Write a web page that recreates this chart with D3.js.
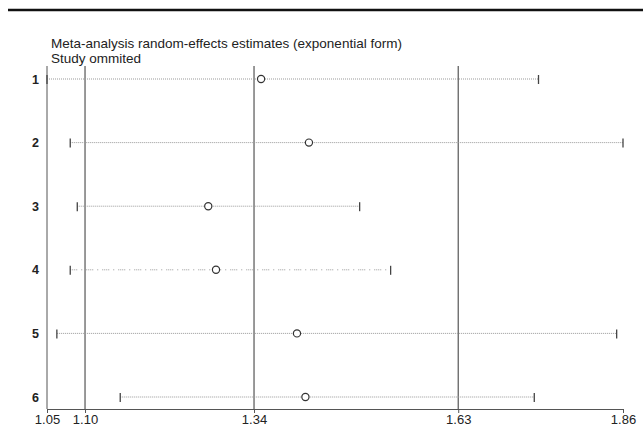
<!DOCTYPE html>
<html>
<head>
<meta charset="utf-8">
<script src="https://cdnjs.cloudflare.com/ajax/libs/d3/7.8.5/d3.min.js"></script>
<style>
  body { margin: 0; background: #fff; }
  text { font-family: "Liberation Sans", Arial, sans-serif; }
</style>
</head>
<body>
<div class="chart"></div>
<script>
var svgWidth = 643;
var svgHeight = 431;

// study omitted (row labels)
var studies = ["1", "2", "3", "4", "5", "6"];
// estimates with that study left out, and confidence limits
var estimates = [1.350, 1.418, 1.275, 1.286, 1.401, 1.413];
var lowerCI = [1.046, 1.079, 1.089, 1.079, 1.060, 1.150];
var upperCI = [1.744, 1.864, 1.490, 1.534, 1.855, 1.738];

// axis ticks: min, overall lower CI, overall estimate, upper CI, max
var tickValues = [1.046, 1.10, 1.34, 1.63, 1.864];
var tickLabels = ["1.05", "1.10", "1.34", "1.63", "1.86"];
var refLines = [1.10, 1.34, 1.63];

var svg = d3.select(".chart").append("svg")
  .attr("width", svgWidth)
  .attr("height", svgHeight);

var x = d3.scaleLinear()
  .domain([tickValues[0], tickValues[tickValues.length - 1]])
  .range([47, 623]);

var y = d3.scalePoint()
  .domain(studies)
  .range([79, 397]);

var plotTop = 66;
var plotBottom = 409;

// thick rule at the top
svg.append("line")
  .attr("x1", 8).attr("x2", svgWidth)
  .attr("y1", 10).attr("y2", 10)
  .attr("stroke", "#111")
  .attr("stroke-width", 2.5);

svg.append("text")
  .attr("x", 51).attr("y", 48)
  .attr("font-size", 13.5)
  .attr("fill", "#222")
  .text("Meta-analysis random-effects estimates (exponential form)");

svg.append("text")
  .attr("x", 51).attr("y", 63)
  .attr("font-size", 13.5)
  .attr("fill", "#222")
  .text("Study ommited");

// x axis
var bottomAxis = d3.axisBottom(x)
  .tickValues(tickValues)
  .tickFormat((d, i) => tickLabels[i])
  .tickSize(4)
  .tickSizeOuter(0);

var xAxis = svg.append("g")
  .attr("transform", `translate(0, ${plotBottom})`)
  .call(bottomAxis);

xAxis.select(".domain").attr("stroke", "#555");
xAxis.selectAll(".tick line").attr("stroke", "#555");
xAxis.selectAll(".tick text")
  .attr("font-size", 13)
  .attr("font-family", "Liberation Sans, Arial, sans-serif")
  .attr("fill", "#222")
  .attr("y", 5)
  .attr("dy", "0.75em");

// left axis line
svg.append("line")
  .attr("x1", x(tickValues[0])).attr("x2", x(tickValues[0]))
  .attr("y1", plotTop).attr("y2", plotBottom)
  .attr("stroke", "#555");

// reference lines
svg.selectAll(".ref")
  .data(refLines)
  .enter()
  .append("line")
  .attr("class", "ref")
  .attr("x1", d => x(d)).attr("x2", d => x(d))
  .attr("y1", plotTop).attr("y2", plotBottom)
  .attr("stroke", "#555")
  .attr("stroke-width", 1.2);

// row labels
svg.selectAll(".rowlab")
  .data(studies)
  .enter()
  .append("text")
  .attr("class", "rowlab")
  .attr("x", 39)
  .attr("y", d => y(d))
  .attr("dy", "0.36em")
  .attr("text-anchor", "end")
  .attr("font-size", 12.5)
  .attr("font-weight", "bold")
  .attr("fill", "#222")
  .text(d => d);

// CI lines (dotted)
svg.selectAll(".ci")
  .data(studies)
  .enter()
  .append("line")
  .attr("class", "ci")
  .attr("x1", (d, i) => x(lowerCI[i]))
  .attr("x2", (d, i) => x(upperCI[i]))
  .attr("y1", d => y(d)).attr("y2", d => y(d))
  .attr("stroke", "#999")
  .attr("stroke-width", 1)
  .attr("stroke-dasharray", (d, i) => i === 3 ? "1,1,1,1,1,1,1,4,1,4" : "1,1");

// caps
var caps = [];
studies.forEach(function(s, i) {
  caps.push({ s: s, v: lowerCI[i] });
  caps.push({ s: s, v: upperCI[i] });
});

svg.selectAll(".cap")
  .data(caps)
  .enter()
  .append("line")
  .attr("class", "cap")
  .attr("x1", d => x(d.v)).attr("x2", d => x(d.v))
  .attr("y1", d => y(d.s) - 4).attr("y2", d => y(d.s) + 5)
  .attr("stroke", "#444")
  .attr("stroke-width", 1.3);

// point estimates
svg.selectAll(".est")
  .data(studies)
  .enter()
  .append("circle")
  .attr("class", "est")
  .attr("cx", (d, i) => x(estimates[i]))
  .attr("cy", d => y(d))
  .attr("r", 3.6)
  .attr("fill", "#fff")
  .attr("stroke", "#333")
  .attr("stroke-width", 1.2);
</script>
</body>
</html>
